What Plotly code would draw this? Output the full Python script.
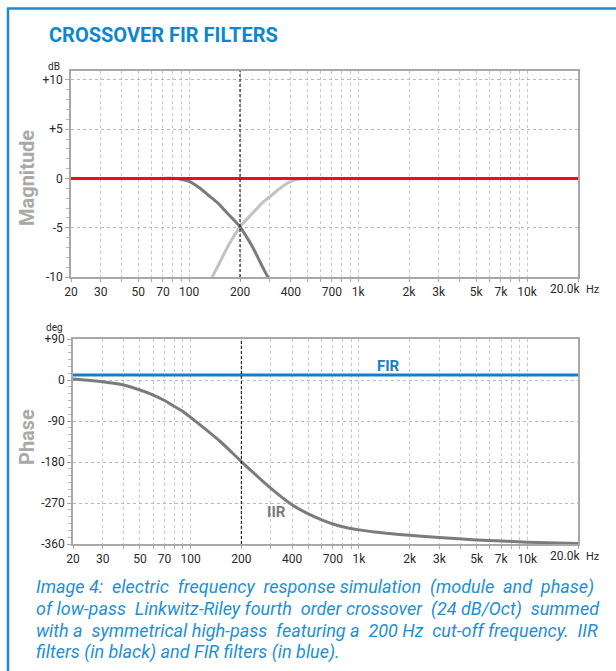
import plotly.graph_objects as go

W, H = 616, 671

# ---------------- data ----------------
lp_freq = [20, 60, 85, 100, 116, 130, 146, 170, 200, 220, 240, 265, 292, 310]
lp_db = [0.0, 0.0, 0.0, -0.3, -1.0, -1.7, -2.4, -3.6, -4.9, -6.0, -7.1, -8.6, -10.0, -11.0]

hp_freq = [129, 137, 151, 167, 182, 200, 235, 274, 308, 345, 400, 470, 667, 20000]
hp_db = [-11.0, -10.0, -8.6, -7.1, -6.0, -4.9, -3.6, -2.4, -1.7, -1.0, -0.3, 0.0, 0.0, 0.0]

sum_freq = [20, 20000]
sum_db = [0.0, 0.0]

iir_freq = [20, 30, 40, 50, 60, 70, 80, 90, 100, 150, 200, 300, 400, 500, 600, 700, 800,
            1000, 1500, 2000, 3000, 5000, 10000, 20000]
iir_deg = [2, -4, -11, -22, -33, -45, -58, -69, -82, -135, -179, -238, -274, -294, -307, -316, -322,
           -329, -337, -341, -346, -351, -356, -359]

fir_freq = [20, 20000]
fir_deg = [11, 11]

grid_vals = [20, 30, 40, 50, 60, 70, 80, 90, 100, 200, 300, 400, 500, 600, 700, 800, 900,
             1000, 2000, 3000, 4000, 5000, 6000, 7000, 8000, 9000, 10000, 20000]
label_map = {20: "20", 30: "30", 50: "50", 70: "70", 100: "100", 200: "200", 400: "400",
             700: "700", 1000: "1k", 2000: "2k", 3000: "3k", 5000: "5k", 7000: "7k",
             10000: "10k"}
grid_text = [label_map.get(v, "") for v in grid_vals]
last_label = "20.0k"
unit_label = "Hz"

mag_ticks = [10, 5, 0, -5, -10]
mag_text = ["+10", "+5", "0", "-5", "-10"]
ph_ticks = [90, 0, -90, -180, -270, -360]
ph_text = ["+90", "0", "-90", "-180", "-270", "-360"]

cutoff = 200

caption_lines = [
    "Image 4: electric frequency response simulation (module and phase)",
    "of low-pass Linkwitz-Riley fourth order crossover (24 dB/Oct) summed",
    "with a symmetrical high-pass featuring a 200 Hz cut-off frequency. IIR",
    "filters (in black) and FIR filters (in blue).",
]
# extra spaces per line to imitate justified text
caption_extra = [6, 4, 5, 0]

# ---------------- styles ----------------
RED = "#e3121d"
DARK = "#7b7b7d"
LIGHT = "#c2c2c2"
BLUE = "#1a7cc6"
TBLUE = "#0c86d0"
FONT = "Roboto"
TICKC = "#2a2a2a"
NB = "\u00a0"


def px(x):
    return x / W


def py(y):
    return 1 - y / H


def justify(line, extra):
    words = line.split(" ")
    gaps = len(words) - 1
    if extra <= 0 or gaps <= 0:
        return line
    out = words[0]
    for i, w in enumerate(words[1:]):
        n = (extra * (i + 1)) // gaps - (extra * i) // gaps
        out += " " + NB * n + w
    return out


fig = go.Figure()

fig.add_trace(go.Scatter(x=hp_freq, y=hp_db, mode="lines",
                         line=dict(color=LIGHT, width=3, shape="spline", smoothing=0.6),
                         xaxis="x", yaxis="y", showlegend=False))
fig.add_trace(go.Scatter(x=lp_freq, y=lp_db, mode="lines",
                         line=dict(color=DARK, width=3, shape="spline", smoothing=0.6),
                         xaxis="x", yaxis="y", showlegend=False))
fig.add_trace(go.Scatter(x=sum_freq, y=sum_db, mode="lines", line=dict(color=RED, width=3),
                         xaxis="x", yaxis="y", showlegend=False))
fig.add_trace(go.Scatter(x=iir_freq, y=iir_deg, mode="lines",
                         line=dict(color=DARK, width=3, shape="spline", smoothing=0.6),
                         xaxis="x2", yaxis="y2", showlegend=False))
fig.add_trace(go.Scatter(x=fir_freq, y=fir_deg, mode="lines", line=dict(color=BLUE, width=3),
                         xaxis="x2", yaxis="y2", showlegend=False))

xcommon = dict(type="log", range=[1.30103, 4.30103], tickmode="array", tickvals=grid_vals,
               ticktext=grid_text, showgrid=True, gridcolor="#c8c8c8", griddash="dot", gridwidth=1,
               showline=True, linecolor="#a8a8a8", linewidth=1.5, mirror=True,
               ticks="outside", ticklen=3, tickcolor="#a8a8a8", zeroline=False,
               tickfont=dict(family=FONT, size=12, color=TICKC), automargin=False)

ycommon = dict(showgrid=True, gridcolor="#b8b8b8", griddash="dot", gridwidth=1,
               showline=True, linecolor="#a8a8a8", linewidth=1.5, mirror=True,
               ticks="outside", ticklen=4, tickcolor="#a8a8a8", zeroline=False,
               tickfont=dict(family=FONT, size=12, color=TICKC), automargin=False)

fig.update_layout(
    width=W, height=H, margin=dict(l=0, r=0, t=0, b=0),
    paper_bgcolor="white", plot_bgcolor="white",
    xaxis=dict(xcommon, domain=[px(71), px(578)], anchor="y"),
    yaxis=dict(ycommon, range=[-10, 10.91], domain=[py(277), py(71)], anchor="x",
               tickmode="array", tickvals=mag_ticks, ticktext=mag_text,
               minor=dict(dtick=1, tick0=0, ticks="outside", ticklen=3, tickcolor="#b8b8b8", showgrid=False)),
    xaxis2=dict(xcommon, domain=[px(73), px(578)], anchor="y2"),
    yaxis2=dict(ycommon, range=[-360, 90], domain=[py(544), py(339)], anchor="x2",
                tickmode="array", tickvals=ph_ticks, ticktext=ph_text,
                minor=dict(dtick=15, tick0=0, ticks="outside", ticklen=3, tickcolor="#b8b8b8", showgrid=False)),
)

shapes = [
    dict(type="line", xref="paper", yref="paper", x0=px(8), x1=px(8), y0=py(8), y1=0,
         line=dict(color="#1a8ad4", width=2.5)),
    dict(type="line", xref="paper", yref="paper", x0=px(7), x1=1, y0=py(8.5), y1=py(8.5),
         line=dict(color="#1a8ad4", width=2.5)),
    dict(type="line", xref="x", yref="y domain", x0=cutoff, x1=cutoff, y0=0, y1=1,
         line=dict(color="black", width=1, dash="3px,2px")),
    dict(type="line", xref="x2", yref="y2 domain", x0=cutoff, x1=cutoff, y0=0, y1=1,
         line=dict(color="black", width=1, dash="3px,2px")),
]
fig.update_layout(shapes=shapes)

ann = [
    dict(text="<b>CROSSOVER FIR FILTERS</b>", x=px(47), y=py(35), xanchor="left", yanchor="middle",
         font=dict(family=FONT, size=20, color=TBLUE)),
    dict(text="<b>Magnitude</b>", x=px(27), y=py(178), textangle=-90, xanchor="center", yanchor="middle",
         font=dict(family=FONT, size=20, color="#a9a9a9")),
    dict(text="<b>Phase</b>", x=px(27), y=py(437), textangle=-90, xanchor="center", yanchor="middle",
         font=dict(family=FONT, size=20, color="#a9a9a9")),
    dict(text="dB", x=px(62), y=py(67), xanchor="right", yanchor="middle",
         font=dict(family=FONT, size=10, color=TICKC)),
    dict(text="deg", x=px(65), y=py(327), xanchor="right", yanchor="middle",
         font=dict(family=FONT, size=10, color=TICKC)),
    dict(text=last_label, x=px(582), y=py(289), xanchor="right", yanchor="middle",
         font=dict(family=FONT, size=12, color=TICKC)),
    dict(text=unit_label, x=px(584), y=py(289), xanchor="left", yanchor="middle",
         font=dict(family=FONT, size=11, color=TICKC)),
    dict(text=last_label, x=px(582), y=py(556), xanchor="right", yanchor="middle",
         font=dict(family=FONT, size=12, color=TICKC)),
    dict(text=unit_label, x=px(584), y=py(556), xanchor="left", yanchor="middle",
         font=dict(family=FONT, size=11, color=TICKC)),
]
cap_y = [587, 608.7, 630.3, 652]
for line, extra, yy in zip(caption_lines, caption_extra, cap_y):
    ann.append(dict(text="<i>" + justify(line, extra) + "</i>", x=px(34), y=py(yy),
                    xanchor="left", yanchor="middle",
                    font=dict(family=FONT, size=18, color="#1e8fd6")))
for a in ann:
    a.update(xref="paper", yref="paper", showarrow=False)

ann.append(dict(text="<b>FIR</b>", x=3.178, y=31, xref="x2", yref="y2", showarrow=False,
                font=dict(family=FONT, size=15, color=BLUE)))
ann.append(dict(text="<b>IIR</b>", x=2.507, y=-289, xref="x2", yref="y2", showarrow=False,
                font=dict(family=FONT, size=15, color=DARK)))
fig.update_layout(annotations=ann)

fig.write_html("out.html", config={"displayModeBar": False},
               post_script="document.body.style.margin='0px';")
